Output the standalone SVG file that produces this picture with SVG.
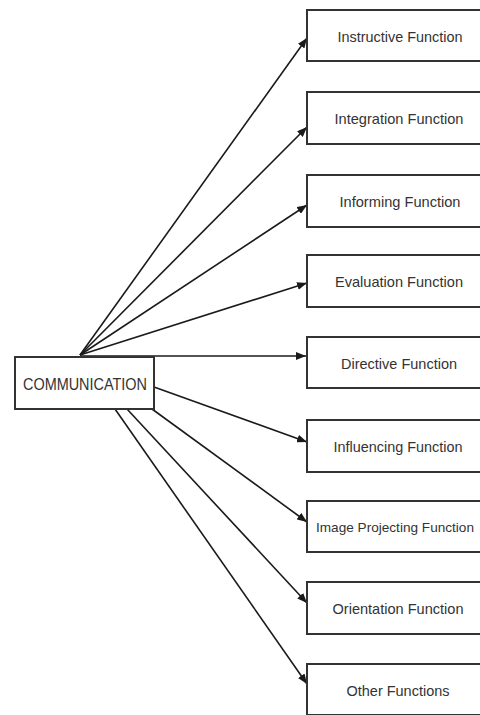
<svg xmlns="http://www.w3.org/2000/svg" width="480" height="715" viewBox="0 0 480 715">
<style>
.box{fill:#fff;stroke:#333;stroke-width:2}
.lbl{font-family:"Liberation Sans",Arial,sans-serif;font-size:15px;fill:#333;text-anchor:middle}
.ln{stroke:#1a1a1a;stroke-width:1.6;fill:none;marker-end:url(#ah)}
</style>
<defs>
<marker id="ah" viewBox="0 0 10 8" refX="10" refY="4" markerWidth="10" markerHeight="8" markerUnits="userSpaceOnUse" orient="auto">
<path d="M0,0 L10,4 L0,8 Z" fill="#1a1a1a"/>
</marker>
</defs>
<rect width="480" height="715" fill="#fff"/>
<g id="connectors">
<line class="ln" x1="80" y1="355" x2="307" y2="38"/>
<line class="ln" x1="80" y1="355" x2="307" y2="127"/>
<line class="ln" x1="80" y1="355" x2="307" y2="205"/>
<line class="ln" x1="80" y1="355" x2="307" y2="283"/>
<line class="ln" x1="80" y1="356" x2="306" y2="356"/>
<line class="ln" x1="154" y1="387" x2="307" y2="442"/>
<line class="ln" x1="152" y1="409" x2="307" y2="522"/>
<line class="ln" x1="127" y1="409" x2="307" y2="603"/>
<line class="ln" x1="115" y1="409" x2="307" y2="684"/>
</g>
<g id="communication">
<rect class="box" x="15" y="357" width="139" height="52"/>
<text class="lbl" x="85" y="390" textLength="124" lengthAdjust="spacingAndGlyphs" style="font-size:16px">COMMUNICATION</text>
</g>
<g id="instructive">
<rect class="box" x="307" y="10" width="190" height="51"/>
<text class="lbl" x="400" y="42" textLength="125" lengthAdjust="spacingAndGlyphs">Instructive Function</text>
</g>
<g id="integration">
<rect class="box" x="307" y="92" width="190" height="52"/>
<text class="lbl" x="399" y="124" textLength="129" lengthAdjust="spacingAndGlyphs">Integration Function</text>
</g>
<g id="informing">
<rect class="box" x="307" y="175" width="190" height="52"/>
<text class="lbl" x="400" y="207" textLength="121" lengthAdjust="spacingAndGlyphs">Informing Function</text>
</g>
<g id="evaluation">
<rect class="box" x="307" y="255" width="190" height="52"/>
<text class="lbl" x="399" y="287" textLength="128" lengthAdjust="spacingAndGlyphs">Evaluation Function</text>
</g>
<g id="directive">
<rect class="box" x="307" y="337" width="190" height="51"/>
<text class="lbl" x="399" y="369" textLength="116" lengthAdjust="spacingAndGlyphs">Directive Function</text>
</g>
<g id="influencing">
<rect class="box" x="307" y="420" width="190" height="52"/>
<text class="lbl" x="398" y="452" textLength="129" lengthAdjust="spacingAndGlyphs">Influencing Function</text>
</g>
<g id="image-projecting">
<rect class="box" x="307" y="501" width="190" height="51"/>
<text class="lbl" x="395" y="532" textLength="158" lengthAdjust="spacingAndGlyphs" style="font-size:13.5px">Image Projecting Function</text>
</g>
<g id="orientation">
<rect class="box" x="307" y="582" width="190" height="52"/>
<text class="lbl" x="398" y="614" textLength="131" lengthAdjust="spacingAndGlyphs">Orientation Function</text>
</g>
<g id="other">
<rect class="box" x="307" y="664" width="190" height="51"/>
<text class="lbl" x="398" y="696" textLength="103" lengthAdjust="spacingAndGlyphs">Other Functions</text>
</g>
</svg>
